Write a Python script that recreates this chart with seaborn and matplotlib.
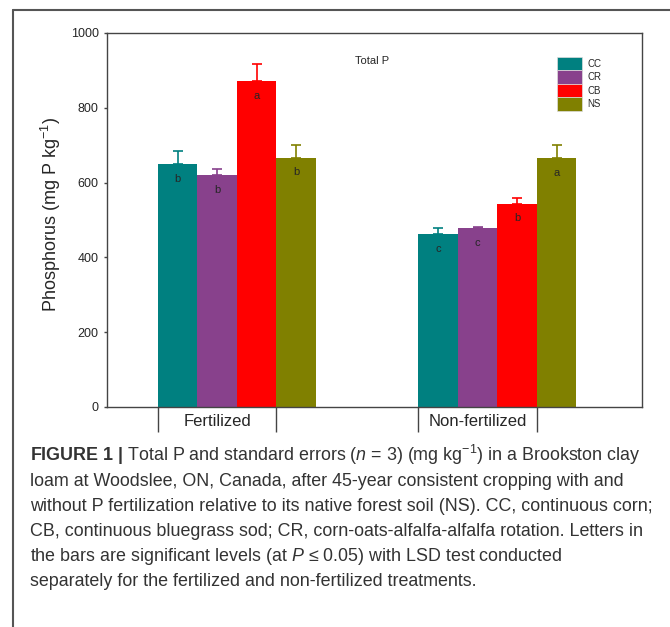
import pandas as pd
import seaborn as sns
import matplotlib.pyplot as plt
from matplotlib.lines import Line2D
from matplotlib.patches import Patch

groups = ["Fertilized", "Non-fertilized"]
treatments = ["CC", "CR", "CB", "NS"]
colors = ["#008080", "#88418C", "#FF0000", "#808000"]
fert_mean = [650, 620, 872, 667]
fert_se = [34, 16, 45, 34]
nonfert_mean = [463, 479, 544, 666]
nonfert_se = [16, 3, 15, 35]
fert_letters = ["b", "b", "a", "b"]
nonfert_letters = ["c", "c", "b", "a"]

caption = [
    r"$\bf{FIGURE\ 1\ |}$ Total P and standard errors ($n$ = 3) (mg kg$^{-1}$) in a Brookston clay",
    "loam at Woodslee, ON, Canada, after 45-year consistent cropping with and",
    "without P fertilization relative to its native forest soil (NS). CC, continuous corn;",
    "CB, continuous bluegrass sod; CR, corn-oats-alfalfa-alfalfa rotation. Letters in",
    r"the bars are significant levels (at $P$ ≤ 0.05) with LSD test conducted",
    "separately for the fertilized and non-fertilized treatments.",
]

df = pd.DataFrame({
    "group": [groups[0]] * 4 + [groups[1]] * 4,
    "treatment": treatments * 2,
    "value": fert_mean + nonfert_mean,
})

sns.set_style("white")
plt.rcParams["font.family"] = ["Liberation Sans", "DejaVu Sans"]
plt.rcParams["mathtext.fontset"] = "custom"
plt.rcParams["mathtext.rm"] = "Liberation Sans"
plt.rcParams["mathtext.it"] = "Liberation Sans:italic"
plt.rcParams["mathtext.bf"] = "Liberation Sans:bold"

fig = plt.figure(figsize=(6.7, 6.27), dpi=100)
ax = fig.add_axes([0.1597, 0.3509, 0.7985, 0.5965])

sns.barplot(data=df, x="group", y="value", hue="treatment", hue_order=treatments,
            palette=colors, width=0.6065, errorbar=None, saturation=1,
            legend=False, linewidth=0, ax=ax)
bar_sets = list(ax.containers)

# error bars (upper only) + significance letters
ses = [[fert_se[i], nonfert_se[i]] for i in range(4)]
letters = [[fert_letters[i], nonfert_letters[i]] for i in range(4)]
for k, cont in enumerate(bar_sets):
    for j, bar in enumerate(cont):
        x = bar.get_x() + bar.get_width() / 2
        h = bar.get_height()
        ax.errorbar(x, h, yerr=[[0], [ses[k][j]]], color=colors[k], capsize=3.6,
                    elinewidth=1.2, capthick=1.2, fmt="none")
        ax.text(x, h - 40, letters[k][j], ha="center", va="center", fontsize=8)

# group boundary ticks as in the original
first = bar_sets[0]
last = bar_sets[-1]
edges = []
for j in range(len(groups)):
    edges.append(first[j].get_x())
    edges.append(last[j].get_x())
ax.set_xticks(edges, labels=[""] * len(edges))
mids = [(edges[2 * j] + edges[2 * j + 1]) / 2 for j in range(len(groups))]
ax.set_xticks(mids, labels=groups, minor=True)
ax.tick_params(axis="x", which="major", direction="out", length=18, width=1, color="#444", bottom=True)
ax.tick_params(axis="x", which="minor", length=0, labelsize=12, pad=5)
ax.set_xlim(-0.499, 1.555)
ax.set_xlabel("")

ax.set_ylim(0, 1000)
ax.set_yticks(range(0, 1001, 200))
ax.tick_params(axis="y", direction="out", length=2.5, width=1, color="#444", left=True,
               labelsize=9, pad=3.5)
ax.set_ylabel("Phosphorus (mg P kg$^{-1}$)", fontsize=13)
ax.yaxis.set_label_coords(-0.083, 0.516)

for s in ax.spines.values():
    s.set_color("#444")
    s.set_linewidth(1.0)

ax.text(0.495, 0.925, "Total P", transform=ax.transAxes, ha="center", va="center", fontsize=8)

handles = [Patch(facecolor=c, edgecolor="#dddddd", linewidth=0.5) for c in colors]
ax.legend(handles, treatments, loc="upper left", bbox_to_anchor=(0.841, 0.936),
          frameon=False, fontsize=7, handlelength=2.6, handleheight=1.75,
          labelspacing=0, handletextpad=0.5, borderpad=0, borderaxespad=0)

# outer frame of the figure panel
fig.add_artist(Line2D([13 / 670, 13 / 670], [1 - 10 / 627, 0], color="#555", lw=1.5))
fig.add_artist(Line2D([13 / 670, 1], [1 - 10 / 627, 1 - 10 / 627], color="#555", lw=1.5))

for i, line in enumerate(caption):
    fig.text(30 / 670, 1 - (461 + 25 * i) / 627, line, ha="left", va="baseline",
             fontsize=12.9, color="#333333")

fig.savefig("out.png", dpi=100)
